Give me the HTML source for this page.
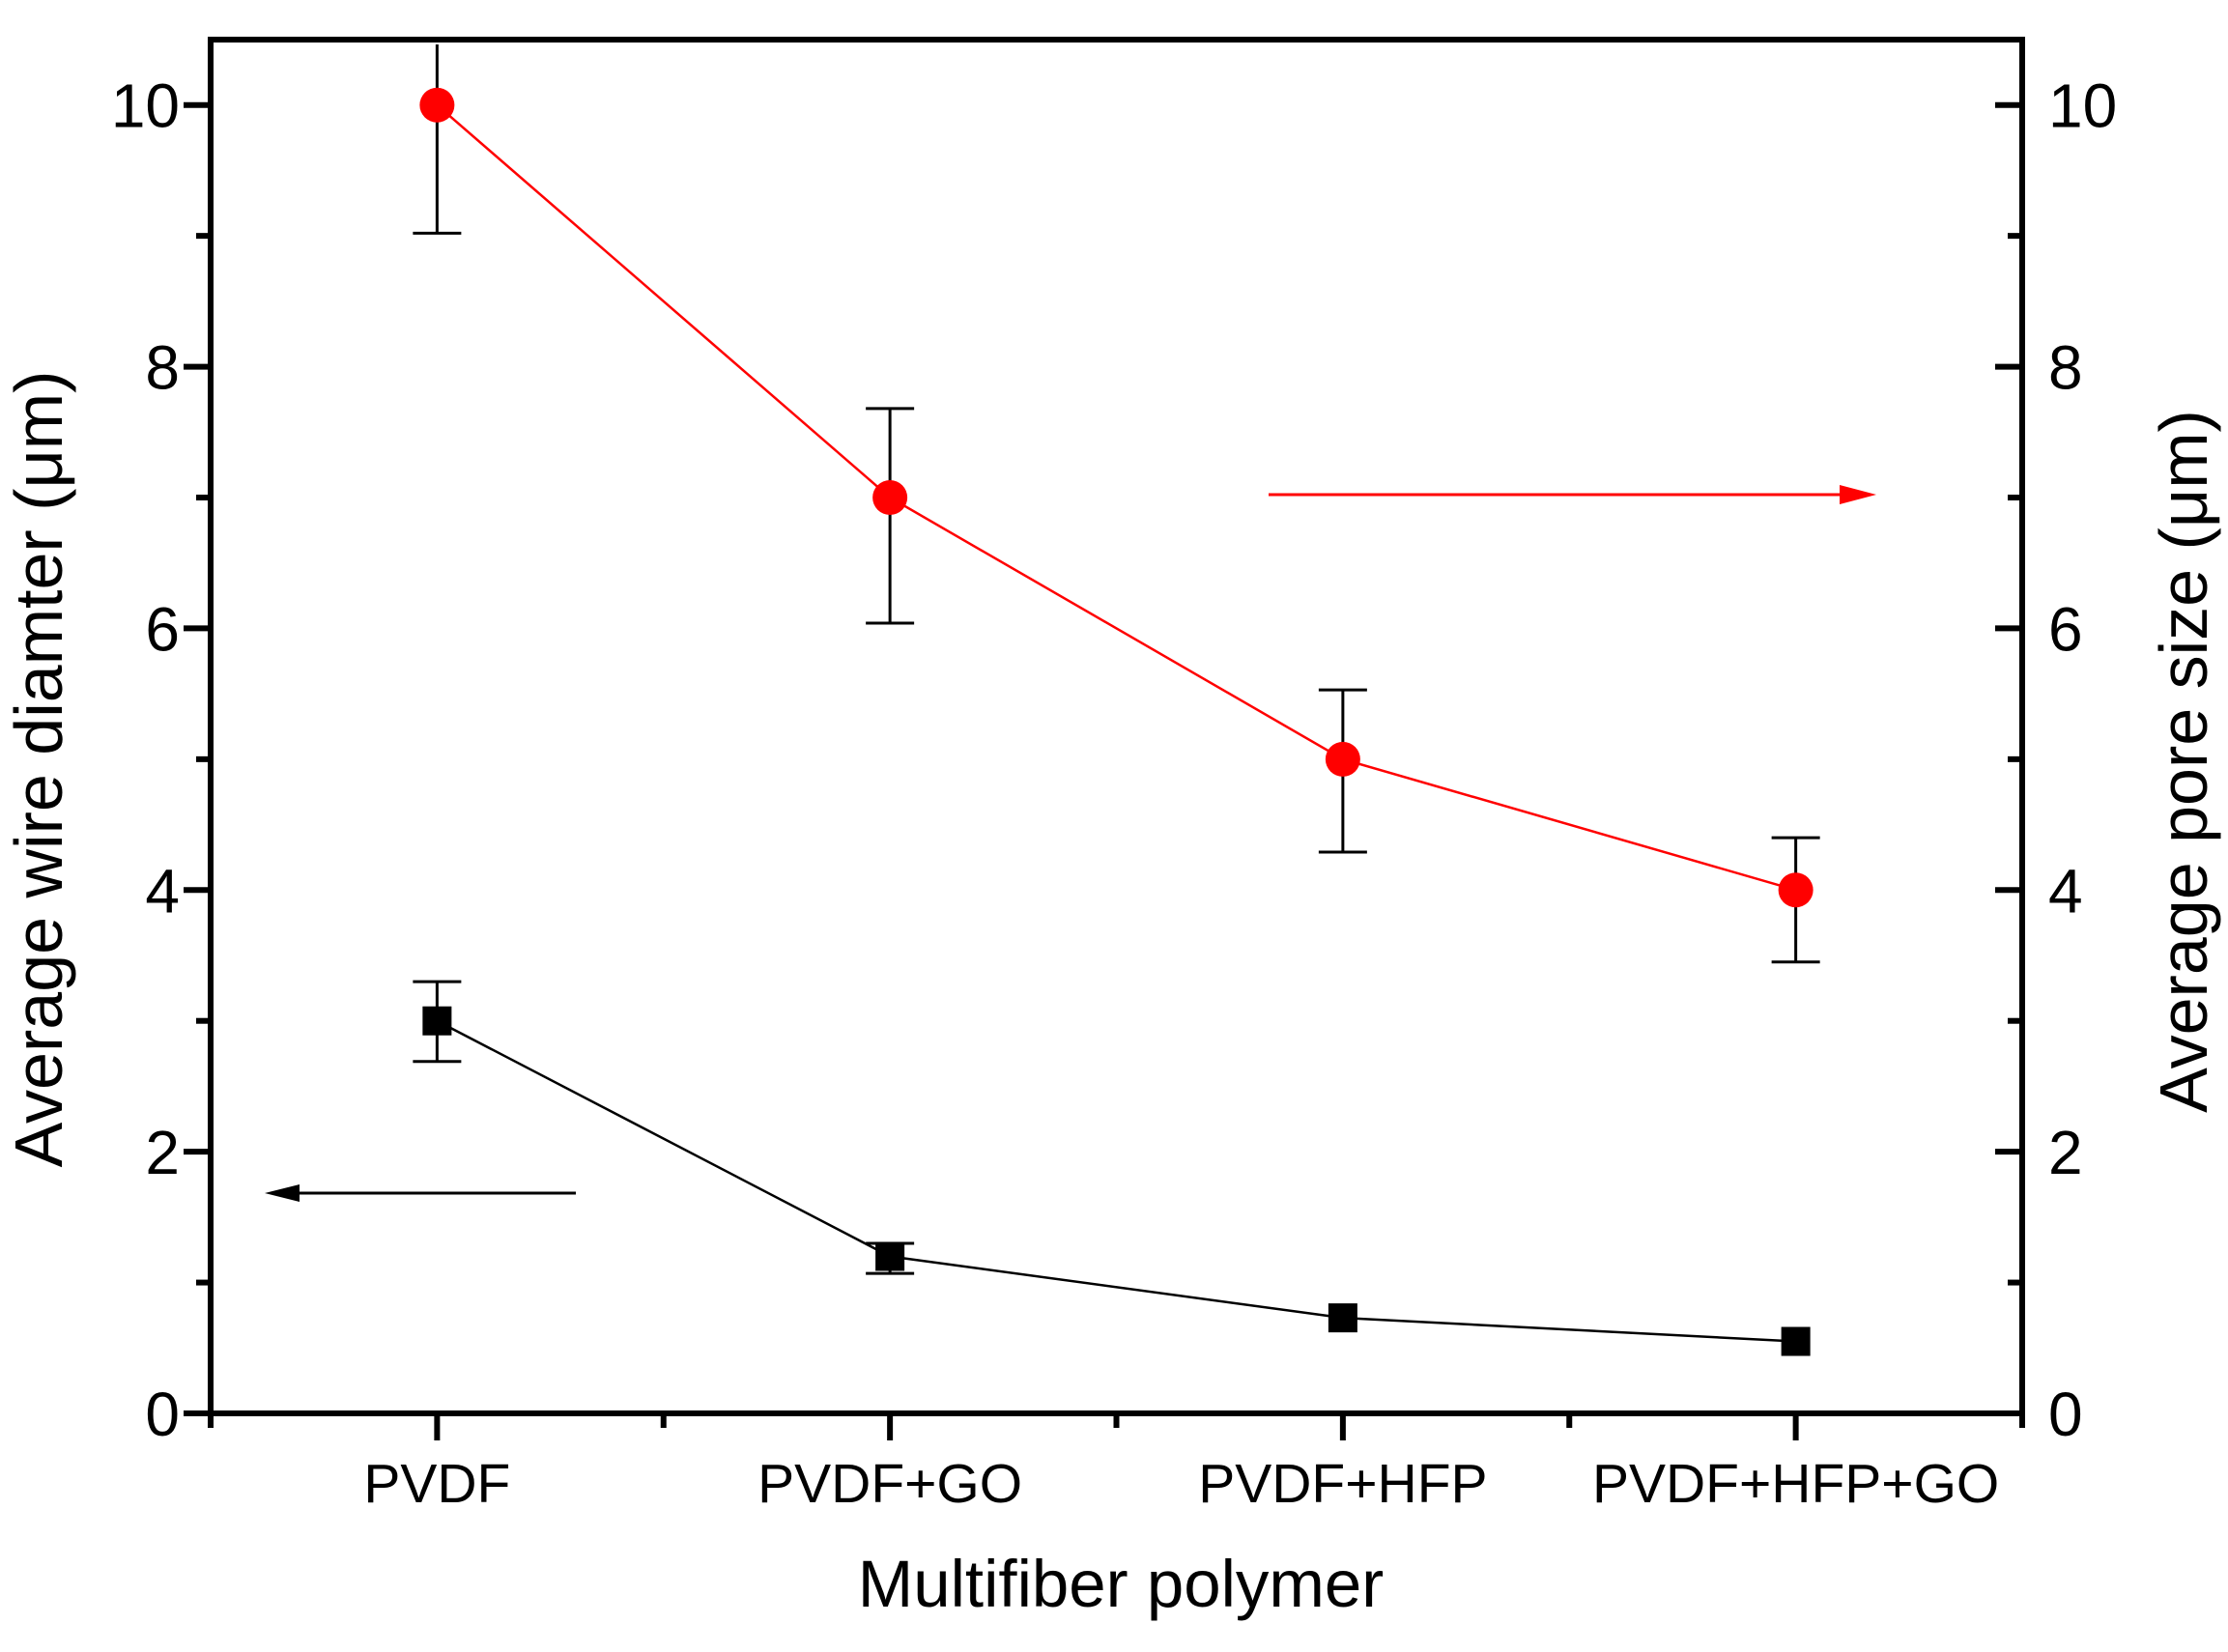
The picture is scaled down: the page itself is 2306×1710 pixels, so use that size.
<!DOCTYPE html>
<html><head><meta charset="utf-8"><style>
html,body{margin:0;padding:0;background:#fff;}
svg{display:block;font-family:"Liberation Sans",Arial,sans-serif;}
</style></head><body>
<svg id="chart" width="2306" height="1710" viewBox="0 0 2306 1710" xmlns="http://www.w3.org/2000/svg">
<g id="axes"></g>
<g id="series"></g>
<text x="1160" y="1663" font-size="69" text-anchor="middle">Multifiber polymer</text>
<text transform="translate(64,796) rotate(-90)" font-size="70" text-anchor="middle">Average wire diamter (μm)</text>
<text transform="translate(2284,788) rotate(-90)" font-size="70" text-anchor="middle">Average pore size (μm)</text>
</svg>
<script>
const categories = ["PVDF","PVDF+GO","PVDF+HFP","PVDF+HFP+GO"];
const poreSize = [10, 7, 5, 4];
const poreErrUp = [1.0, 0.68, 0.53, 0.4];
const poreErrDown = [0.98, 0.96, 0.71, 0.55];
const wireDiam = [3.0, 1.2, 0.73, 0.55];
const wireErrUp = [0.3, 0.1, 0.0, 0.0];
const wireErrDown = [0.31, 0.13, 0.0, 0.0];
const yTicks = [0, 2, 4, 6, 8, 10];

const L=218, R=2093, T=41, B=1463, YMAX=10.5;
const NS='http://www.w3.org/2000/svg';
const xs = i => L + (i + 0.5) / categories.length * (R - L);
const ys = v => B - v / YMAX * (B - T);
function mk(tag, attrs, parent){const e=document.createElementNS(NS,tag);for(const k in attrs)e.setAttribute(k,attrs[k]);parent.appendChild(e);return e;}
const ax=document.getElementById('axes'), se=document.getElementById('series');

let f=mk('rect',{x:L,y:T,width:R-L,height:B-T,fill:'none',stroke:'#000','stroke-width':6},ax);



for(let v=0; v<=10; v+=1){
  const y=ys(v), major=(v%2===0), len=major?28:15;
  let t1=mk('line',{x1:L-len,y1:y,x2:L,y2:y,stroke:'#000','stroke-width':6},ax);
  
  
  let t2=mk('line',{x1:R-len,y1:y,x2:R,y2:y,stroke:'#000','stroke-width':6},ax);
  
  
}
yTicks.forEach(v=>{
  let a=mk('text',{x:186,y:ys(v)+23,'font-size':64,'text-anchor':'end'},ax);a.textContent=v;
  
  
  let b=mk('text',{x:2120,y:ys(v)+23,'font-size':64,'text-anchor':'start'},ax);b.textContent=v;
  
  
});
for(let k=0;k<=2*categories.length;k++){
  const x=L+k/(2*categories.length)*(R-L), major=(k%2===1), len=major?28:15;
  let t=mk('line',{x1:x,y1:B,x2:x,y2:B+len,stroke:'#000','stroke-width':6},ax);
  
  
}
categories.forEach((c,i)=>{
  let t=mk('text',{x:xs(i),y:1555,'font-size':57,'text-anchor':'middle'},ax);t.textContent=c;
  
  
});

function drawSeries(vals,up,down,color,shape,name){
  const pts=vals.map((v,i)=>xs(i)+','+ys(v)).join(' ');
  let pl=mk('polyline',{points:pts,fill:'none',stroke:color,'stroke-width':2.5},se);
  
  
  vals.forEach((v,i)=>{
    const x=xs(i), yt=Math.max(ys(v+up[i]),T+5), yb=ys(v-down[i]);
    if(up[i]>0||down[i]>0){
      let g=mk('g',{},se);
      
      
      mk('line',{x1:x,y1:yt,x2:x,y2:yb,stroke:'#000','stroke-width':3},g);
      if(ys(v+up[i])>T+5) mk('line',{x1:x-25,y1:yt,x2:x+25,y2:yt,stroke:'#000','stroke-width':3},g);
      mk('line',{x1:x-25,y1:yb,x2:x+25,y2:yb,stroke:'#000','stroke-width':3},g);
    }
    let m;
    if(shape==='circle') m=mk('circle',{cx:x,cy:ys(v),r:18,fill:color},se);
    else m=mk('rect',{x:x-15,y:ys(v)-15,width:30,height:30,fill:color},se);
    
    
  });
}
drawSeries(poreSize,poreErrUp,poreErrDown,'#ff0000','circle','pore-size');
drawSeries(wireDiam,wireErrUp,wireErrDown,'#000000','square','wire-diameter');

let ar=mk('g',{},se);


mk('line',{x1:1313,y1:512,x2:1912,y2:512,stroke:'#ff0000','stroke-width':3},ar);
mk('polygon',{points:'1942,512 1904,502 1904,522',fill:'#ff0000'},ar);
let al=mk('g',{},se);


mk('line',{x1:596,y1:1235,x2:300,y2:1235,stroke:'#000','stroke-width':3},al);
mk('polygon',{points:'274,1235 310,1226 310,1244',fill:'#000'},al);
</script>
</body></html>
